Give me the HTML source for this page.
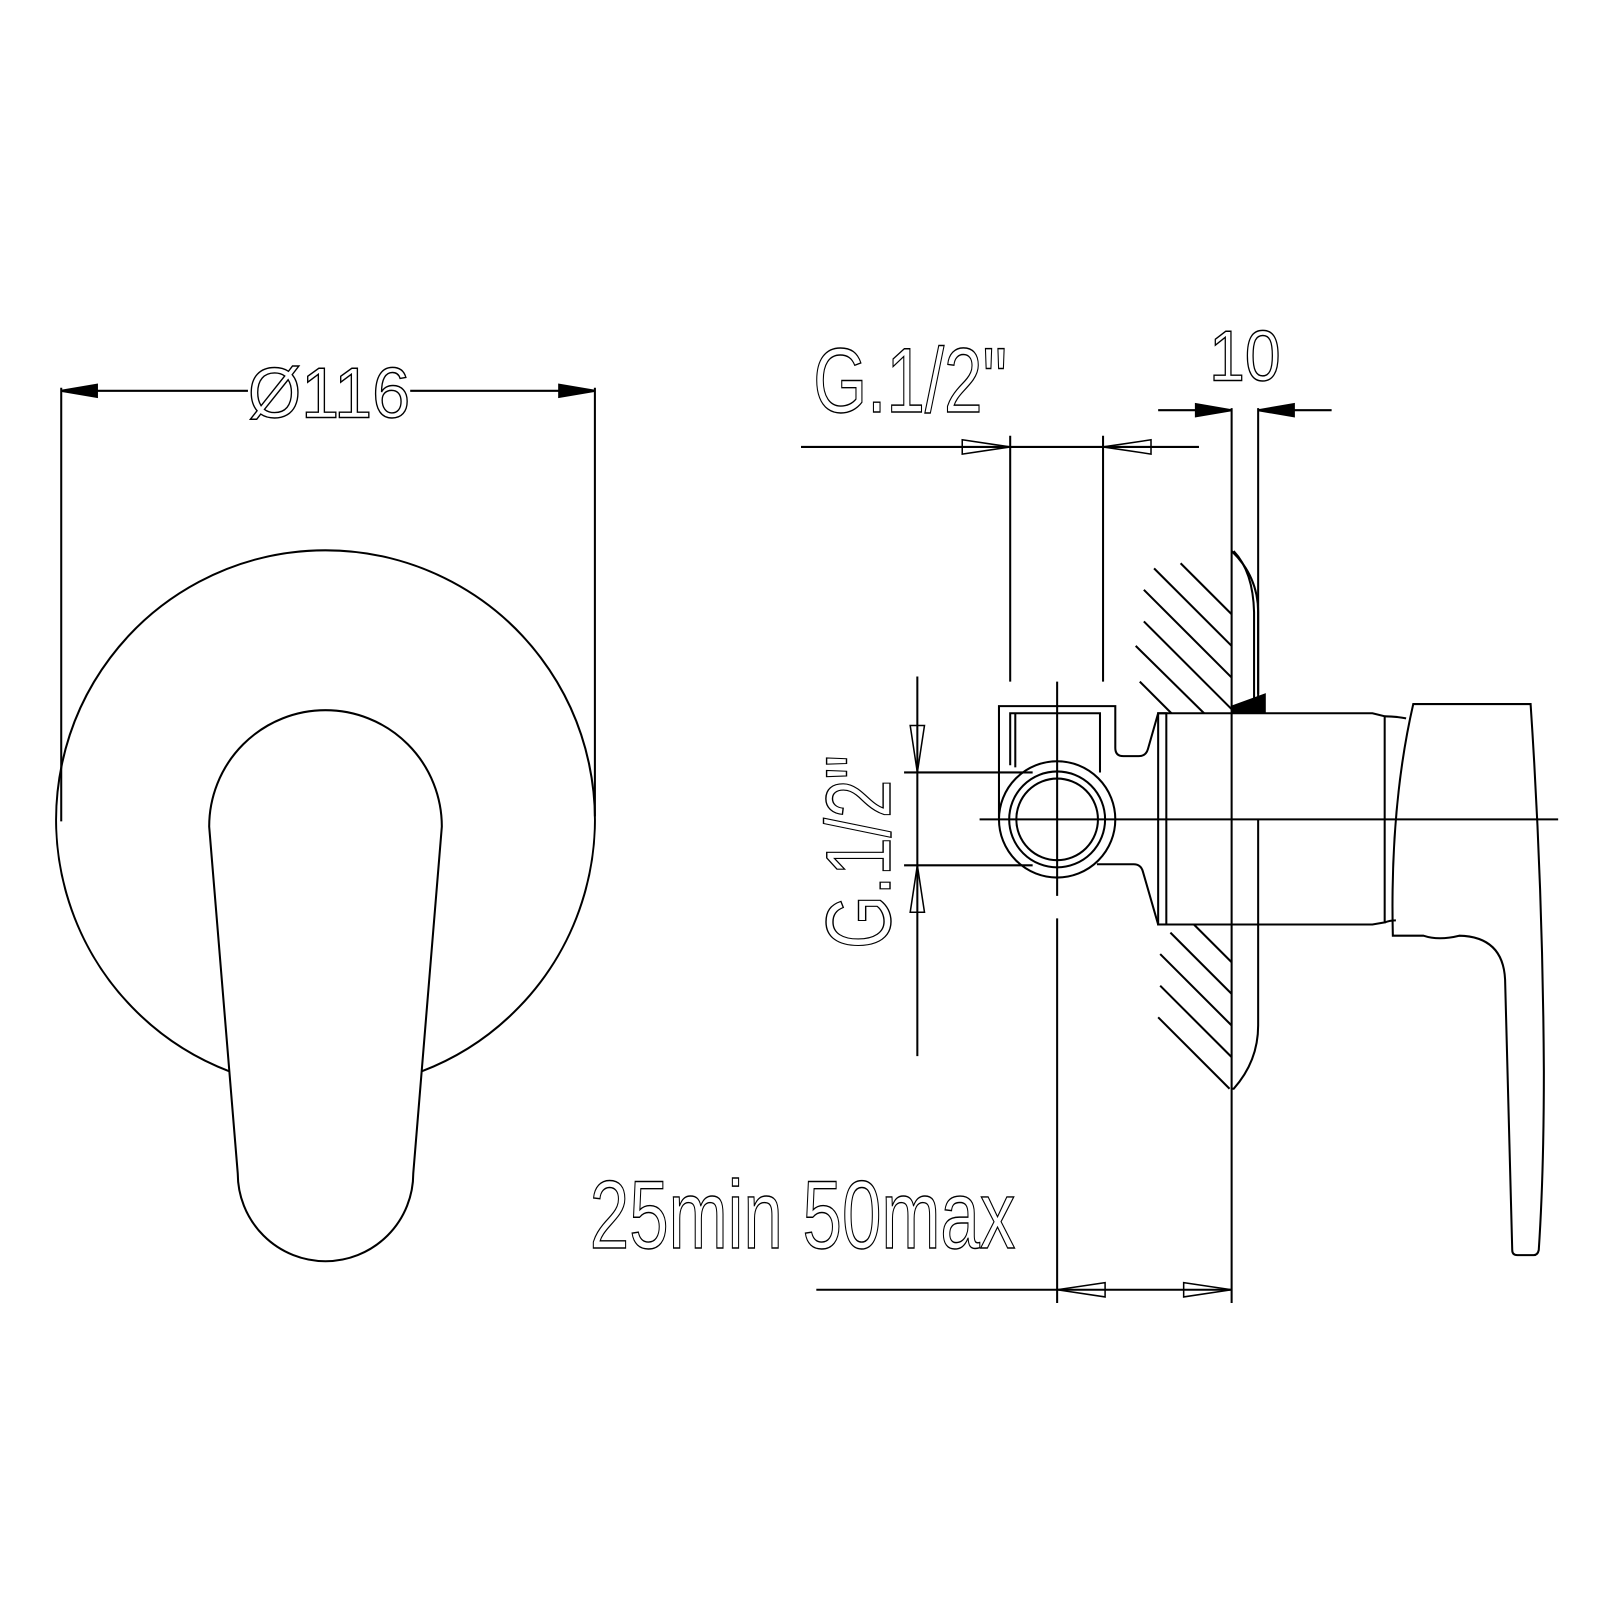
<!DOCTYPE html>
<html><head><meta charset="utf-8"><style>
html,body{margin:0;padding:0;background:#fff;}
svg{display:block;}
text{font-family:"Liberation Sans",sans-serif;fill:none;stroke:#000;stroke-width:1.4;}
</style></head><body>
<svg width="1600" height="1600" viewBox="0 0 1600 1600" xmlns="http://www.w3.org/2000/svg">
<g transform="scale(1.0204)">
<g fill="none" stroke="#000" stroke-width="2">
<path d="M225,1050 A264,264 0 1 1 413,1050"/>
<path d="M205,810 A114,114 0 1 1 433,810 L405,1150 A86,86 0 0 1 233,1150 Z"/>
<line x1="60" y1="383" x2="243" y2="383"/><line x1="402" y1="383" x2="583" y2="383"/>
<line x1="60" y1="380" x2="60" y2="805"/><line x1="583" y1="380" x2="583" y2="800"/>
<path d="M60,383 L95,377 L95,389 Z M583,383 L548,377 L548,389 Z" fill="#000"/>

<line x1="785" y1="438" x2="1175" y2="438"/>
<path d="M990,438 L943,431 L943,445 Z M1081,438 L1128,431 L1128,445 Z" stroke-width="1.5"/>
<line x1="990" y1="427" x2="990" y2="668"/><line x1="1081" y1="427" x2="1081" y2="668"/>
<line x1="1135" y1="402" x2="1207" y2="402"/><line x1="1233" y1="402" x2="1305" y2="402"/>
<path d="M1207,402 L1172,396 L1172,408 Z M1233,402 L1268,396 L1268,408 Z" fill="#000"/>
<line x1="1207" y1="400" x2="1207" y2="1277"/>
<line x1="1233" y1="400" x2="1233" y2="680"/>
<line x1="899" y1="663" x2="899" y2="1035"/>
<line x1="886" y1="757" x2="1012" y2="757"/><line x1="886" y1="848" x2="1012" y2="848"/>
<path d="M899,757 L892,711 L906,711 Z M899,848 L892,894 L906,894 Z" stroke-width="1.5"/>
<line x1="800" y1="1264" x2="1207" y2="1264"/>
<line x1="1036" y1="900" x2="1036" y2="1277"/>
<path d="M1036,1264 L1083,1257 L1083,1271 Z M1207,1264 L1160,1257 L1160,1271 Z" stroke-width="1.5"/>
<line x1="960" y1="803" x2="1527" y2="803"/>
<line x1="1036" y1="668" x2="1036" y2="878"/>
<circle cx="1036" cy="803" r="57"/><circle cx="1036" cy="803" r="47"/><circle cx="1036" cy="803" r="40"/>
<path d="M979,803 L979,692 L1093,692 L1093,733 Q1093,741 1101,741 L1116,741 Q1123,741 1125,734 L1135,699 L1143,699"/>
<path d="M990,750 L990,699 L1078,699 L1078,757"/><line x1="995" y1="699" x2="995" y2="752"/>
<path d="M1075,847 L1111,847 Q1118,847 1120,854 L1135,906 L1143,906"/>
<rect x="1135" y="699" width="8" height="207"/>
<path d="M1143,699 L1345,699 L1357,702 L1357,904 L1345,906 L1143,906"/>
<path d="M1357,702 Q1368,702 1378,704 M1357,904 Q1362,902 1368,902"/>
<path d="M1209,540 Q1228,560 1229,600 L1229,690"/>
<path d="M1207,540 Q1233,565 1233,600 L1233,690"/>
<path d="M1233,803 L1233,1005 Q1233,1040 1209,1067 L1207,1067"/>
<path d="M1207,692 L1240,680 L1240,699 L1207,699 Z" fill="#000" stroke-width="1"/>
<line x1="1157" y1="552" x2="1207" y2="602"/><line x1="1131" y1="557" x2="1207" y2="633"/>
<line x1="1121" y1="578" x2="1207" y2="664"/><line x1="1121" y1="609" x2="1207" y2="695"/>
<line x1="1113" y1="633" x2="1180" y2="699"/><line x1="1117" y1="668" x2="1148" y2="699"/>
<line x1="1170" y1="906" x2="1207" y2="943"/><line x1="1147" y1="914" x2="1207" y2="974"/>
<line x1="1137" y1="935" x2="1207" y2="1005"/><line x1="1137" y1="966" x2="1207" y2="1036"/>
<line x1="1135" y1="997" x2="1205" y2="1067"/>
<path d="M1385,690 L1500,690 Q1512,870 1513,1050 Q1513,1150 1508,1225 Q1507,1230 1503,1230 L1487,1230 Q1482,1230 1482,1225 L1475,960 Q1473,918 1430,917 Q1410,922 1395,917 L1365,917 Q1362,790 1385,690 Z"/>
</g>
<text x="243" y="409" font-size="70" textLength="159" lengthAdjust="spacingAndGlyphs">Ø116</text>
<text x="797" y="404" font-size="90" textLength="190" lengthAdjust="spacingAndGlyphs">G.1/2"</text>
<text x="1185" y="373" font-size="70" textLength="70" lengthAdjust="spacingAndGlyphs">10</text>
<text transform="translate(872,930) rotate(-90)" font-size="90" textLength="190" lengthAdjust="spacingAndGlyphs">G.1/2"</text>
<text x="578" y="1223" font-size="95" textLength="417" lengthAdjust="spacingAndGlyphs">25min 50max</text>
</g>
</svg>
</body></html>
